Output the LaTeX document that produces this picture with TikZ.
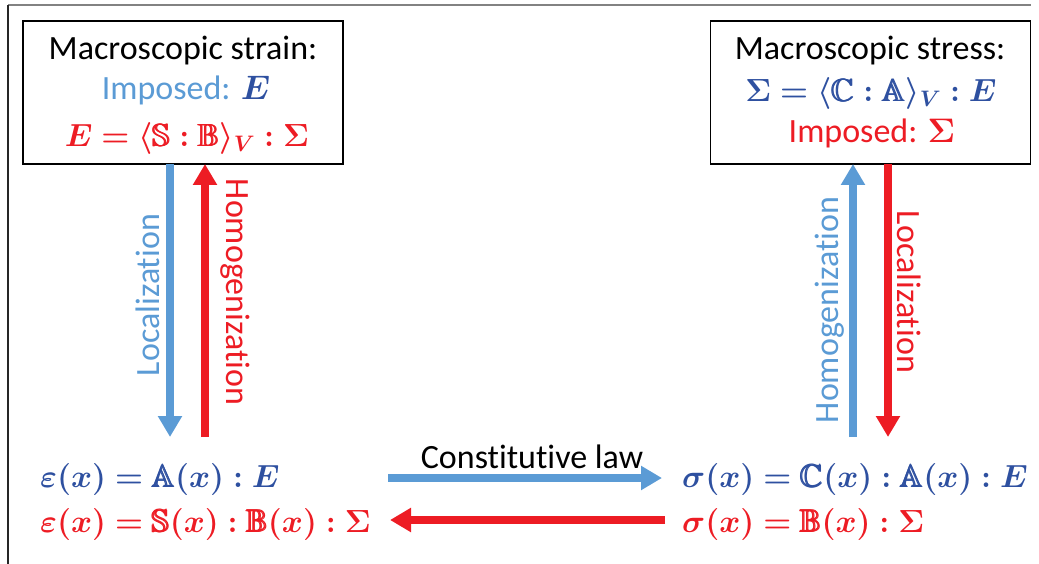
\RequirePackage{fix-cm}
\documentclass[tikz,border=0pt]{standalone}
\usepackage{amsmath,amssymb}
\usepackage{bm}
\usepackage{fontspec}
\setmainfont{Carlito}[Ligatures=NoCommon]
\usetikzlibrary{arrows.meta}
\definecolor{arrowblue}{RGB}{91,155,213}
\definecolor{arrowred}{RGB}{237,28,36}
\definecolor{mathblue}{RGB}{46,80,160}
\definecolor{framegray}{RGB}{130,130,130}
\newcommand\bbt[1]{\pmb{\mathbb{#1}}}
\tikzset{
  box/.style={draw=black, line width=1.5pt, minimum width=320pt, minimum height=143pt, inner sep=0pt},
  txt/.style={inner sep=0pt, font=\fontsize{34}{40}\selectfont},
  mth/.style={inner sep=0pt, font=\fontsize{32}{38}\selectfont},
  barrow/.style={draw=arrowblue, line width=7.5pt, -{Triangle[length=21pt,width=23pt]}},
  rarrow/.style={draw=arrowred, line width=7.5pt, -{Triangle[length=21pt,width=23pt]}},
}
\begin{document}
\begin{tikzpicture}[x=1pt,y=-1pt]
\useasboundingbox (0,0) rectangle (1039,564);
% frame
\draw[framegray, line width=1.5pt] (8,5) -- (1031,5);
\draw[black!85, line width=1.2pt] (8,5) -- (8,564);
% boxes
\node[box] (lbox) at (183,92.5) {};
\node[box] (rbox) at (870.5,92.5) {};
% left box texts
\node[txt, anchor=base] (lt1) at (183,60) {Macroscopic strain:};
\node[txt, anchor=base, text=arrowblue] (lt2) at (186,100) {Imposed:\hspace{0.3em}\textcolor{mathblue}{$\bm{E}$}};
\node[mth, anchor=base, text=arrowred] (lt3) at (187,147) {$\bm{E = \langle} \bbt{S} \bm{:} \bbt{B} \bm{\rangle_V : \Sigma}$};
% right box texts
\node[txt, anchor=base] (rt1) at (870,60) {Macroscopic stress:};
\node[mth, anchor=base, text=mathblue] (rt2) at (871,102) {$\bm{\Sigma = \langle} \bbt{C} \bm{:} \bbt{A} \bm{\rangle_V : E}$};
\node[txt, anchor=base, text=arrowred] (rt3) at (872,143) {Imposed: $\bm{\Sigma}$};
% bottom formulas
\node[mth, anchor=base west, text=mathblue] (lf1) at (40,487) {$\bm{\varepsilon(x) =} \bbt{A}\bm{(x) : E}$};
\node[mth, anchor=base west, text=arrowred] (lf2) at (40,532) {$\bm{\varepsilon(x) =} \bbt{S}\bm{(x) :} \bbt{B}\bm{(x) : \Sigma}$};
\node[mth, anchor=base west, text=mathblue] (rf1) at (682,487) {$\bm{\sigma(x) =} \bbt{C}\bm{(x) :} \bbt{A}\bm{(x) : E}$};
\node[mth, anchor=base west, text=arrowred] (rf2) at (682,532) {$\bm{\sigma(x) =} \bbt{B}\bm{(x) : \Sigma}$};
% arrow end points
\coordinate (l1top) at (170,164);
\coordinate (l1bot) at (170,437);
\coordinate (l2top) at (205,164);
\coordinate (l2bot) at (205,437);
\coordinate (r1top) at (853,164);
\coordinate (r1bot) at (853,437);
\coordinate (r2top) at (888,164);
\coordinate (r2bot) at (888,437);
\coordinate (h1l) at (388,478);
\coordinate (h1r) at (662,478);
\coordinate (h2l) at (390,520);
\coordinate (h2r) at (665,520);
% arrows
\draw[barrow] (l1top) -- (l1bot);
\draw[rarrow] (l2bot) -- (l2top);
\draw[barrow] (r1bot) -- (r1top);
\draw[rarrow] (r2top) -- (r2bot);
\draw[barrow] (h1l) -- (h1r);
\draw[rarrow] (h2r) -- (h2l);
% labels
\node[txt, text=arrowblue, rotate=90] (lloc) at (148,295) {Localization};
\node[txt, text=arrowred, rotate=-90] (lhom) at (235,292) {Homogenization};
\node[txt, text=arrowblue, rotate=90] (rhom) at (830,310) {Homogenization};
\node[txt, text=arrowred, rotate=-90] (rloc) at (909,292) {Localization};
\node[txt, anchor=base] (claw) at (532,468) {Constitutive law};
\end{tikzpicture}
\end{document}
